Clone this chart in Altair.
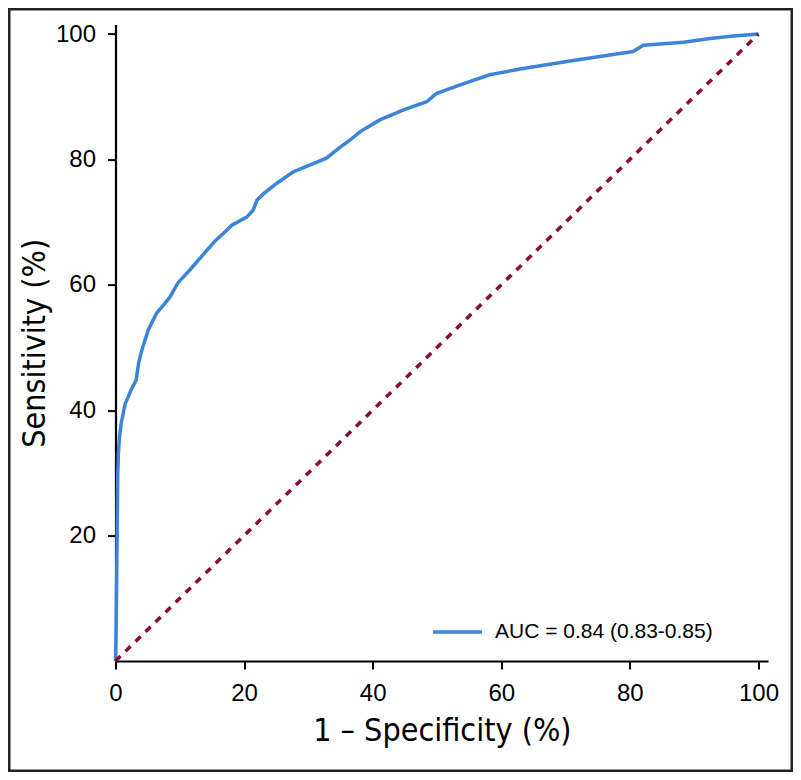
import altair as alt
import pandas as pd

# ROC curve (1 - specificity %, sensitivity %)
fpr = [0, 0.1, 0.2, 0.3, 0.35, 0.45, 0.6, 0.9, 1.5, 2.5, 3.2, 3.6, 4.1, 5.1, 6.4,
       7.5, 8.5, 9.7, 11.6, 14.2, 15.5, 17.3, 18.1, 20.4, 21.4, 22, 23, 25.1, 27.6,
       30.2, 32.8, 35.4, 36.5, 38, 41.1, 44.8, 48.4, 49.9, 53.6, 58.2, 63.4, 70.2,
       75.3, 80.5, 82.1, 88.3, 92.5, 96.1, 100]
tpr = [0, 5, 15, 25, 30, 33, 35.5, 38, 41, 43.4, 44.8, 47.5, 49.6, 52.8, 55.5,
       56.8, 58.1, 60.3, 62.4, 65.5, 67, 68.7, 69.5, 70.8, 71.9, 73.5, 74.5, 76.2, 78,
       79.1, 80.2, 82.3, 83.1, 84.4, 86.3, 87.9, 89.2, 90.5, 91.9, 93.5, 94.5, 95.6,
       96.4, 97.2, 98.2, 98.7, 99.3, 99.7, 100]
series_label = "AUC = 0.84 (0.83-0.85)"

ref_x = [0, 100]
ref_y = [0, 100]

x_ticks = [0, 20, 40, 60, 80, 100]
y_ticks = [20, 40, 60, 80, 100]

BLUE = "#3a85d8"
RED = "#8b0a35"
TICK_FONT = "Liberation Sans"
TITLE_FONT = "DejaVu Sans Condensed, Liberation Sans Narrow, Roboto"

W, H = 652.6, 636.4
PAD = {"left": 107.5, "top": 16.6, "right": 24.9, "bottom": 111.0}

roc = pd.DataFrame({"fpr": fpr, "tpr": tpr, "series": series_label})
diag = pd.DataFrame({"fpr": ref_x, "tpr": ref_y})

xscale = alt.Scale(domain=[0, 101.5], nice=False, zero=False)
yscale = alt.Scale(domain=[0, 101.5], nice=False, zero=False)

x_axis = alt.Axis(values=x_ticks, title="1 – Specificity (%)", titlePadding=10,
                  labelPadding=12, labelFlush=False)
y_axis = alt.Axis(values=y_ticks, title="Sensitivity (%)", titlePadding=4,
                  labelPadding=12, labelFlush=False)

curve = alt.Chart(roc).mark_line(strokeWidth=3.5, interpolate="linear").encode(
    x=alt.X("fpr:Q", scale=xscale, axis=x_axis),
    y=alt.Y("tpr:Q", scale=yscale, axis=y_axis),
    order=alt.Order("fpr:Q"),
    color=alt.Color("series:N",
                    scale=alt.Scale(domain=[series_label], range=[BLUE]),
                    legend=alt.Legend(title=None, orient="none", legendX=315.5,
                                      legendY=581, symbolType="stroke",
                                      symbolSize=2401, symbolStrokeWidth=3.5,
                                      labelFontSize=21, labelFont=TICK_FONT,
                                      labelColor="black", labelOffset=11,
                                      labelLimit=0, padding=0)),
)

diagonal = alt.Chart(diag).mark_line(color=RED, strokeWidth=3.5,
                                     strokeDash=[7, 7]).encode(
    x=alt.X("fpr:Q", scale=xscale),
    y=alt.Y("tpr:Q", scale=yscale),
)

frame = alt.Chart(pd.DataFrame({"k": [0]})).mark_rect(
    fill=None, stroke="#222222", strokeWidth=2.5, fillOpacity=0
).encode(
    x=alt.value(-PAD["left"] + 1.25),
    x2=alt.value(W + PAD["right"] - 1.25),
    y=alt.value(-PAD["top"] + 1.25),
    y2=alt.value(H + PAD["bottom"] - 1.25),
)

chart = alt.layer(curve, diagonal, frame).properties(
    width=W, height=H,
    autosize=alt.AutoSizeParams(type="none"),
    padding=PAD,
).configure_view(stroke=None).configure_axis(
    grid=False,
    domainColor="black", domainWidth=2.2,
    tickColor="black", tickWidth=2, tickSize=8,
    labelColor="black", labelFont=TICK_FONT, labelFontSize=24,
    titleColor="black", titleFont=TITLE_FONT, titleFontSize=32,
    titleFontWeight="normal",
)

chart.save("out.html", embed_options={"renderer": "svg", "actions": False})
